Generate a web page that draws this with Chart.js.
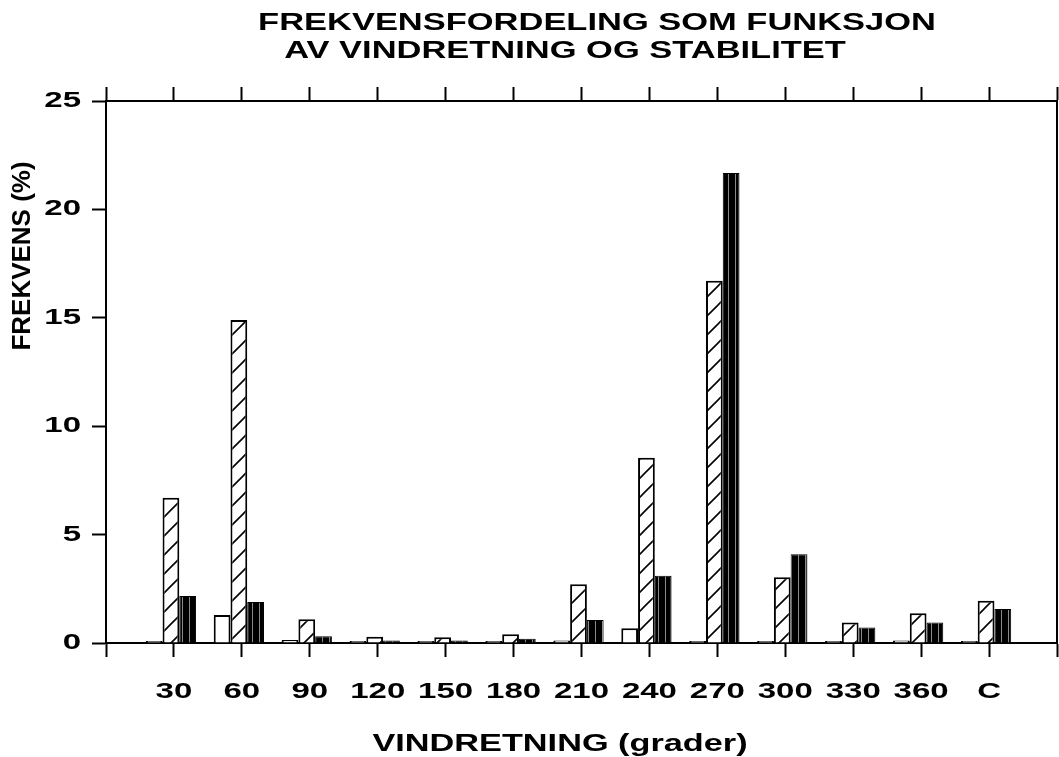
<!DOCTYPE html>
<html>
<head>
<meta charset="utf-8">
<title>Frekvensfordeling</title>
<script src="https://cdn.jsdelivr.net/npm/chart.js@4.4.1/dist/chart.umd.min.js"></script>
<style>
    body { margin: 0; background: #fff; }
    canvas { display: block; }
</style>
</head>
<body>
<canvas id="freqChart" width="1059" height="757"></canvas>
<script>
// Vindretning (grader) and calm ("C")
const directions = ['30', '60', '90', '120', '150', '180', '210', '240', '270', '300', '330', '360', 'C'];

// Frekvens (%) per stabilitetsklasse
const classWhite   = [0.06, 1.29, 0.14, 0.02, 0.03, 0.05, 0.12, 0.68, 0.03, 0.01, 0.03, 0.12, 0.03];
const classHatched = [6.70, 14.9, 1.09, 0.29, 0.26, 0.40, 2.71, 8.55, 16.71, 3.03, 0.95, 1.37, 1.95];
const classBlack   = [2.17, 1.89, 0.31, 0.12, 0.12, 0.20, 1.06, 3.10, 21.68, 4.09, 0.71, 0.95, 1.57];

const yTicks = [0, 5, 10, 15, 20, 25];

// empty slot on each side so the axis ends fall on tick marks
const axisLabels = [''].concat(directions, ['']);
const pad = arr => [null].concat(arr, [null]);

const FONT = '"Liberation Sans", Arial, sans-serif';

const canvas = document.getElementById('freqChart');
const ctx = canvas.getContext('2d');

// diagonal "/" hatch
function hatchPattern() {
    const c = document.createElement('canvas');
    c.width = 19; c.height = 19;
    const g = c.getContext('2d');
    g.fillStyle = '#fff';
    g.fillRect(0, 0, 19, 19);
    g.strokeStyle = '#000';
    g.lineWidth = 1.6;
    g.beginPath();
    g.moveTo(-2, 21); g.lineTo(21, -2);
    g.moveTo(-2, 2); g.lineTo(2, -2);
    g.moveTo(17, 21); g.lineTo(21, 17);
    g.stroke();
    return ctx.createPattern(c, 'repeat');
}

// black fill with thin grey vertical lines
function stripePattern() {
    const c = document.createElement('canvas');
    c.width = 7; c.height = 4;
    const g = c.getContext('2d');
    g.fillStyle = '#000';
    g.fillRect(0, 0, 7, 4);
    g.fillStyle = '#8a8a8a';
    g.fillRect(3, 0, 1, 4);
    return ctx.createPattern(c, 'repeat');
}

// wide bold text, stretched horizontally
function wideText(c, text, x, y, size, sx, align) {
    c.save();
    c.translate(x, y);
    c.scale(sx, 1);
    c.font = 'bold ' + size + 'px ' + FONT;
    c.fillStyle = '#000';
    c.textAlign = align || 'center';
    c.textBaseline = 'middle';
    c.fillText(text, 0, 0);
    c.restore();
}

// bar groups sit a little left of their tick
const groupShift = {
    id: 'groupShift',
    beforeDatasetsDraw(chart) {
        chart.ctx.save();
        chart.ctx.translate(-3, 0);
    },
    afterDatasetsDraw(chart) {
        chart.ctx.restore();
    }
};

const textPlugin = {
    id: 'textPlugin',
    afterDraw(chart) {
        const c = chart.ctx;
        const xs = chart.scales.x;
        const ys = chart.scales.y;

        // tick labels
        directions.forEach((lab, i) => {
            wideText(c, lab, xs.getPixelForTick(i + 1), 692, 22, 1.5);
        });
        yTicks.forEach(v => {
            wideText(c, String(v), 81, ys.getPixelForValue(v), 22, 1.5, 'right');
        });

        // titles
        wideText(c, 'FREKVENSFORDELING SOM FUNKSJON', 597, 23, 24, 1.436);
        wideText(c, 'AV VINDRETNING OG STABILITET', 565, 51, 24, 1.436);
        wideText(c, 'VINDRETNING (grader)', 560, 745, 23, 1.49);

        c.save();
        c.translate(23, 256);
        c.rotate(-Math.PI / 2);
        c.font = 'bold 26px ' + FONT;
        c.fillStyle = '#000';
        c.textAlign = 'center';
        c.textBaseline = 'middle';
        c.fillText('FREKVENS (%)', 0, 0);
        c.restore();
    }
};

const tickGrid = {
    drawOnChartArea: false,
    drawTicks: true,
    tickLength: 14,
    tickWidth: 2,
    tickColor: '#000',
    offset: false
};

new Chart(ctx, {
    type: 'bar',
    data: {
        labels: axisLabels,
        datasets: [
            {
                data: pad(classWhite),
                backgroundColor: '#fff',
                borderColor: '#000',
                borderWidth: 2,
                minBarLength: 2
            },
            {
                data: pad(classHatched),
                backgroundColor: hatchPattern(),
                borderColor: '#000',
                borderWidth: 2,
                minBarLength: 2
            },
            {
                data: pad(classBlack),
                backgroundColor: stripePattern(),
                borderColor: '#000',
                borderWidth: 1,
                minBarLength: 2
            }
        ]
    },
    options: {
        responsive: false,
        animation: false,
        devicePixelRatio: 1,
        layout: { padding: 0 },
        datasets: {
            bar: { barPercentage: 1, categoryPercentage: 0.74 }
        },
        plugins: {
            legend: { display: false },
            tooltip: { enabled: false },
            title: { display: false }
        },
        scales: {
            x: {
                type: 'category',
                position: 'bottom',
                offset: false,
                z: 1,
                grid: tickGrid,
                border: { color: '#000', width: 2 },
                ticks: { display: false },
                afterFit: s => { s.height = 114; }
            },
            xTop: {
                type: 'category',
                position: 'top',
                labels: axisLabels,
                offset: false,
                grid: tickGrid,
                border: { color: '#000', width: 2 },
                ticks: { display: false },
                afterFit: s => { s.height = 101; }
            },
            y: {
                position: 'left',
                min: 0,
                max: 25,
                grid: tickGrid,
                border: { color: '#000', width: 2 },
                ticks: { display: false, stepSize: 5 },
                afterFit: s => { s.width = 106; }
            },
            yRight: {
                position: 'right',
                min: 0,
                max: 25,
                grid: { drawOnChartArea: false, drawTicks: false },
                border: { color: '#000', width: 2 },
                ticks: { display: false, stepSize: 5 },
                afterFit: s => { s.width = 2; }
            }
        }
    },
    plugins: [groupShift, textPlugin]
});
</script>
</body>
</html>
